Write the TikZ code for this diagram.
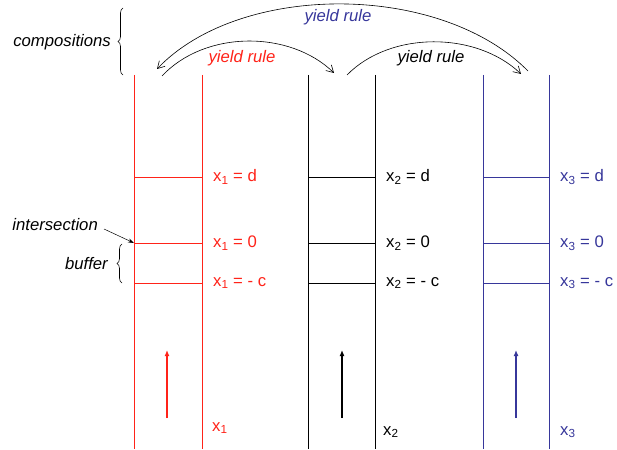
\documentclass[tikz,border=0pt]{standalone}
\usepackage{fontspec}
\setmainfont{Liberation Sans}
\usetikzlibrary{decorations.pathreplacing,arrows.meta}
\definecolor{cred}{RGB}{255,35,25}
\definecolor{cblue}{RGB}{55,55,155}
\begin{document}
\begin{tikzpicture}[x=1pt,y=-1pt,
  every node/.style={font=\fontsize{16.7}{19}\selectfont,inner sep=0pt},
  lab/.style={anchor=west},
  note/.style={font=\fontsize{16.7}{19}\selectfont\itshape},
  rail/.style={line width=0.8pt},
  up/.style={line width=2pt,-{Latex[length=6pt,width=5pt]}},
  arc/.style={line width=0.6pt,-{Straight Barb[length=7pt,width=8pt]}},
  brc/.style={line width=0.6pt,decorate,decoration={brace,amplitude=5pt}}]
\useasboundingbox[fill=white] (0,0) rectangle (617,449);
% rails
\foreach \n/\xa/\xb/\xm/\c in {1/134/202/167/cred,2/308/375/342/black,3/483/549/516/cblue}{
  \coordinate (t\n a) at (\xa,75); \coordinate (b\n a) at (\xa,449);
  \coordinate (t\n b) at (\xb,75); \coordinate (b\n b) at (\xb,449);
  \draw[rail,\c] (t\n a) -- (b\n a);
  \draw[rail,\c] (t\n b) -- (b\n b);
  \coordinate (d\n a) at (\xa,177); \coordinate (d\n b) at (\xb,177);
  \coordinate (z\n a) at (\xa,243); \coordinate (z\n b) at (\xb,243);
  \coordinate (c\n a) at (\xa,283); \coordinate (c\n b) at (\xb,283);
  \draw[rail,\c] (d\n a) -- (d\n b);
  \draw[rail,\c] (z\n a) -- (z\n b);
  \draw[rail,\c] (c\n a) -- (c\n b);
  \node[lab,text=\c] (ld\n) at (\xb+11,177) {x\textsubscript{\n} = d};
  \node[lab,text=\c] (lz\n) at (\xb+11,243) {x\textsubscript{\n} = 0};
  \node[lab,text=\c] (lc\n) at (\xb+11,283) {x\textsubscript{\n} = - c};
  \coordinate (as\n) at (\xm,418);
  \coordinate (ae\n) at (\xm,350);
  \draw[up,draw=\c,fill=\c] (as\n) -- (ae\n);
}
\node[lab,text=cred] (bx1) at (212,428) {x\textsubscript{1}};
\node[lab] (bx2) at (383,432) {x\textsubscript{2}};
\node[lab,text=cblue] (bx3) at (560,432) {x\textsubscript{3}};
% arcs
\coordinate (r1) at (162,76); \coordinate (r2) at (334,73);
\coordinate (k1) at (347,75); \coordinate (k2) at (521,74);
\coordinate (u1) at (528,71); \coordinate (u2) at (157,69);
\draw[arc] (r1) .. controls (205,30) and (290,30) .. (r2);
\draw[arc] (k1) .. controls (390,31) and (476,31) .. (k2);
\draw[arc] (u1) .. controls (440,-18) and (240,-18) .. (u2);
\node[note,text=cred] (yr1) at (242,58) {yield rule};
\node[note] (yr2) at (431,58) {yield rule};
\node[note,text=cblue] (yr3) at (338,17) {yield rule};
% braces and notes
\coordinate (cb1) at (123,75); \coordinate (cb2) at (123,8);
\draw[brc] (cb1) -- (cb2);
\node[note,anchor=east] (comp) at (111,42) {compositions};
\coordinate (bb1) at (122,283); \coordinate (bb2) at (122,244);
\draw[brc] (bb1) -- (bb2);
\node[note,anchor=east] (buf) at (108,264) {buffer};
\node[note,anchor=east] (int) at (98,225) {intersection};
\draw[line width=0.5pt,-{Stealth[length=6pt,width=4pt]}] (104,229) -- (z1a);
\end{tikzpicture}
\end{document}
